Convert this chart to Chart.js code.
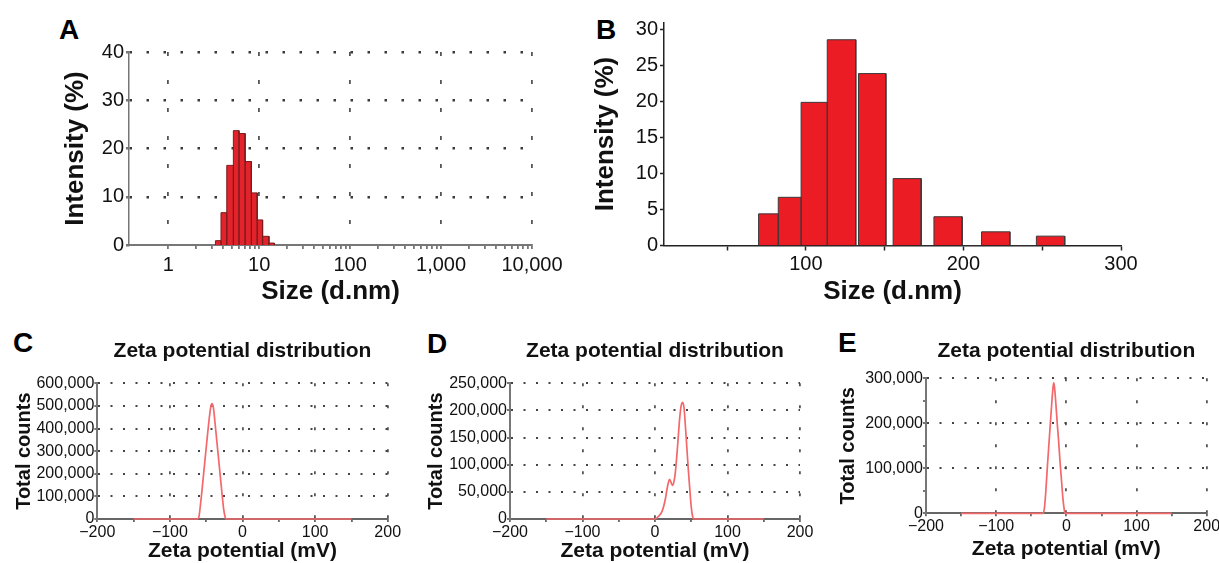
<!DOCTYPE html>
<html>
<head>
<meta charset="utf-8">
<script src="https://cdn.jsdelivr.net/npm/chart.js@4.4.0/dist/chart.umd.min.js"></script>
<style>
  body { margin: 0; width: 1219px; height: 563px; overflow: hidden; background: #fff; position: relative;
         font-family: "Liberation Sans", Arial, sans-serif; }
  canvas { position: absolute; }
  .tag { position: absolute; font-weight: bold; font-size: 28px; line-height: 28px; color: #000; }
</style>
</head>
<body>
<div class="tag" style="left:59px;top:16px">A</div>
<div class="tag" style="left:596px;top:16px">B</div>
<div class="tag" style="left:13px;top:329px">C</div>
<div class="tag" style="left:427px;top:330px">D</div>
<div class="tag" style="left:838px;top:329px">E</div>

<canvas id="chartA" width="580" height="310" style="left:0;top:0"></canvas>
<canvas id="chartB" width="639" height="310" style="left:580px;top:0"></canvas>
<canvas id="chartC" width="410" height="228" style="left:0;top:335px"></canvas>
<canvas id="chartD" width="410" height="228" style="left:410px;top:335px"></canvas>
<canvas id="chartE" width="420" height="228" style="left:820px;top:335px"></canvas>

<script>
/* ========= DATA ========= */
// A: DLS intensity, log bins (bin edges in d.nm)
const aLeft = [3.3, 3.8, 4.4, 5.2, 6.0, 7.0, 8.2, 9.5, 10.9, 12.8];
const aRight = [3.8, 4.4, 5.2, 6.0, 7.0, 8.2, 9.5, 10.9, 12.8, 14.7];
const aIntensity = [0.9, 6.7, 16.5, 23.7, 23.1, 17.3, 10.8, 5.2, 1.8, 0.4];
const sizeDecades = [1, 10, 100, 1000, 10000];
const aYTicks = [0, 5, 10, 15, 20, 25, 30, 35, 40];

// B: size histogram
const bLeft = [70, 82.5, 97, 113.6, 133.4, 155.4, 181.3, 211.5, 246.3];
const bRight = [82.5, 97, 113.6, 131.7, 150.8, 173.2, 199.2, 229.5, 264.3];
const bIntensity = [4.4, 6.7, 19.9, 28.6, 23.9, 9.3, 4.0, 1.9, 1.3];
const bXTicks = [50, 100, 150, 200, 250, 300];
const bYTicks = [0, 2.5, 5, 7.5, 10, 12.5, 15, 17.5, 20, 22.5, 25, 27.5, 30];

// C, D, E: zeta potential distributions
const zetaTicks = [-200, -150, -100, -50, 0, 50, 100, 150, 200];

const cZeta = [-150, -62, -60, -58, -56, -54, -52, -50, -48, -46, -44, -43, -42, -41, -40, -38, -36, -34, -32, -30, -28, -26, -24, -23, 150];
const cCounts = [0, 0, 10000, 60000, 120000, 185000, 250000, 315000, 380000, 440000, 490000, 505000, 510000, 505000, 490000, 430000, 365000, 300000, 235000, 170000, 105000, 45000, 10000, 0, 0];
const cCountTicks = [0, 50000, 100000, 150000, 200000, 250000, 300000, 350000, 400000, 450000, 500000, 550000, 600000];

const dZeta = [-150, 0, 5, 10, 14, 17, 20, 22, 24, 26, 28, 30, 32, 34, 36, 38, 40, 42, 44, 46, 48, 50, 52, 53, 150];
const dCounts = [0, 0, 5000, 15000, 35000, 58000, 73000, 68000, 62000, 68000, 85000, 115000, 150000, 185000, 208000, 215000, 205000, 170000, 130000, 90000, 55000, 22000, 4000, 0, 0];
const dCountTicks = [0, 25000, 50000, 75000, 100000, 125000, 150000, 175000, 200000, 225000, 250000];

const eZeta = [-150, -33, -31, -29, -27, -25, -23, -21, -19, -18, -17, -15, -13, -11, -9, -7, -5, -3, -2, 150];
const eCounts = [0, 0, 15000, 55000, 105000, 150000, 195000, 240000, 280000, 290000, 282000, 245000, 200000, 160000, 115000, 75000, 35000, 8000, 0, 0];
const eCountTicks = [0, 50000, 100000, 150000, 200000, 250000, 300000];

/* ========= HELPERS ========= */
Chart.defaults.font.family = "'Liberation Sans', Arial, sans-serif";
Chart.defaults.color = "#111";
Chart.defaults.animation = false;
Chart.defaults.plugins.legend.display = false;
Chart.defaults.plugins.tooltip.enabled = false;

const fixWidth = w => s => { s.width = w; };
const fixHeight = h => s => { s.height = h; };
const useTicks = list => s => { s.ticks = list.map(v => ({ value: v })); };
const fmtSigned = v => (v < 0 ? "\u2212" + Math.abs(v) : String(v));

// outline of a histogram, one rectangle per bin
function histPoints(lefts, rights, heights) {
  const pts = [];
  heights.forEach((h, i) => {
    pts.push({ x: lefts[i], y: 0 }, { x: lefts[i], y: h }, { x: rights[i], y: h }, { x: rights[i], y: 0 });
  });
  return pts;
}

const sizeTicks = sizeDecades.flatMap(d => d === 10000 ? [d] : [1, 2, 3, 4, 5, 6, 7, 8, 9].map(k => k * d));
const boldTitle = (size, text, pad) => ({ display: true, text, color: "#111", padding: pad,
  font: { size, weight: "bold", lineHeight: 1 } });

/* ========= A ========= */
new Chart(document.getElementById("chartA"), {
  type: "line",
  data: { datasets: [{
    data: histPoints(aLeft, aRight, aIntensity),
    borderColor: "#7a1c1c", borderWidth: 1, backgroundColor: "#e3232b",
    fill: "origin", pointRadius: 0, tension: 0
  }] },
  options: {
    responsive: false,
    layout: { padding: { top: 52, right: 48, bottom: 0, left: 0 } },
    scales: {
      x: {
        type: "logarithmic", min: 0.37, max: 10000,
        afterBuildTicks: useTicks(sizeTicks),
        afterFit: fixHeight(65),
        ticks: { autoSkip: false, maxRotation: 0, padding: 4, font: { size: 20 },
                 callback: v => sizeDecades.includes(v) ? v.toLocaleString("en-US") : "" },
        grid: { color: c => c.tick && sizeDecades.includes(c.tick.value) ? "#555" : "transparent",
                lineWidth: 1.8, tickColor: "#777", tickLength: 4 },
        border: { color: "#777", width: 2, dash: [4, 24] },
        title: boldTitle(26, "Size (d.nm)", { bottom: 5 })
      },
      y: {
        min: 0, max: 40,
        afterBuildTicks: useTicks(aYTicks),
        afterFit: fixWidth(129),
        ticks: { padding: 2, font: { size: 20 }, callback: v => v % 10 === 0 ? String(v) : "" },
        grid: { color: c => c.tick && c.tick.value > 0 && c.tick.value % 10 === 0 ? "#3a3a3a" : "transparent",
                lineWidth: 2.5, tickColor: "#777", tickLength: 3 },
        border: { color: "#777", width: 1.5, dash: [2.5, 14.5] },
        title: boldTitle(26, "Intensity (%)", { top: 63 })
      }
    }
  }
});

/* ========= B ========= */
new Chart(document.getElementById("chartB"), {
  type: "line",
  data: { datasets: [{
    data: histPoints(bLeft, bRight, bIntensity),
    borderColor: "#3a3a3a", borderWidth: 1, backgroundColor: "#ec1c24",
    fill: "origin", pointRadius: 0, tension: 0
  }] },
  options: {
    responsive: false,
    layout: { padding: { top: 22.5, right: 98, bottom: 0, left: 0 } },
    scales: {
      x: {
        type: "linear", min: 10, max: 300,
        afterBuildTicks: useTicks(bXTicks),
        afterFit: fixHeight(64.5),
        ticks: { autoSkip: false, maxRotation: 0, padding: 2, font: { size: 20 },
                 callback: v => v % 100 === 0 ? String(v) : "" },
        grid: { drawOnChartArea: false, tickColor: "#222", tickLength: 5, tickWidth: 1.5 },
        border: { color: "#222", width: 1.5 },
        title: boldTitle(26, "Size (d.nm)", { bottom: 5 })
      },
      y: {
        min: 0, max: 31,
        afterBuildTicks: useTicks(bYTicks),
        afterFit: fixWidth(84),
        ticks: { padding: 2, font: { size: 20 }, callback: v => v % 5 === 0 ? String(v) : "" },
        grid: { drawOnChartArea: false, tickColor: "#222", tickLength: 4, tickWidth: 1.5 },
        border: { color: "#222", width: 1.5 },
        title: boldTitle(26, "Intensity (%)", { top: 13 })
      }
    }
  }
});

/* ========= C, D, E ========= */
function zetaChart(id, xs, ys, yMax, yTicks, yLabelStep, box) {
  return new Chart(document.getElementById(id), {
    type: "line",
    data: { datasets: [{
      data: xs.map((x, i) => ({ x, y: ys[i] })),
      borderColor: "#f2686b", borderWidth: 1.7, pointRadius: 0, fill: false,
      cubicInterpolationMode: "monotone", clip: false
    }] },
    options: {
      responsive: false,
      layout: { padding: { top: 0, right: box.right, bottom: 0, left: 0 } },
      plugins: {
        title: { display: true, text: "Zeta potential distribution", fullSize: false, color: "#111",
                 font: { size: 21, weight: "bold", lineHeight: 1 },
                 padding: { top: 5.5, bottom: box.titleGap } }
      },
      scales: {
        x: {
          type: "linear", min: -200, max: 200,
          afterBuildTicks: useTicks(zetaTicks),
          afterFit: fixHeight(box.xh),
          ticks: { autoSkip: false, maxRotation: 0, padding: 1, font: { size: 16 },
                   callback: v => v % 100 === 0 ? fmtSigned(v) : "" },
          grid: { color: c => c.tick && c.tick.value > -200 && c.tick.value % 100 === 0 ? "#555" : "transparent",
                  lineWidth: 1.8, tickColor: "#666", tickLength: 3 },
          border: { color: "#666", width: 2, dash: [3, 19] },
          title: boldTitle(21, "Zeta potential (mV)", { bottom: box.xtp })
        },
        y: {
          min: 0, max: yMax,
          afterBuildTicks: useTicks(yTicks),
          afterFit: fixWidth(box.yw),
          ticks: { padding: 0, font: { size: 16 },
                   callback: v => v % yLabelStep === 0 ? v.toLocaleString("en-US") : "" },
          grid: { color: c => c.tick && c.tick.value > 0 && c.tick.value % yLabelStep === 0 ? "#444" : "transparent",
                  lineWidth: 2, tickColor: "#777", tickLength: 3 },
          border: { color: "#777", width: 2, dash: [2, 10.5] },
          title: boldTitle(20, "Total counts", { top: box.ytp })
        }
      }
    }
  });
}

window.onload = () => {
  zetaChart("chartC", cZeta, cCounts, 600000, cCountTicks, 100000,
            { right: 22.3, titleGap: 21.8, xh: 44, xtp: 1.5, yw: 97.3, ytp: 14 });
  zetaChart("chartD", dZeta, dCounts, 250000, dCountTicks, 50000,
            { right: 20, titleGap: 21.8, xh: 44, xtp: 1.5, yw: 100, ytp: 16 });
  zetaChart("chartE", eZeta, eCounts, 300000, eCountTicks, 100000,
            { right: 33.3, titleGap: 16.8, xh: 49.7, xtp: 3.5, yw: 106, ytp: 18 });
};
</script>
</body>
</html>
